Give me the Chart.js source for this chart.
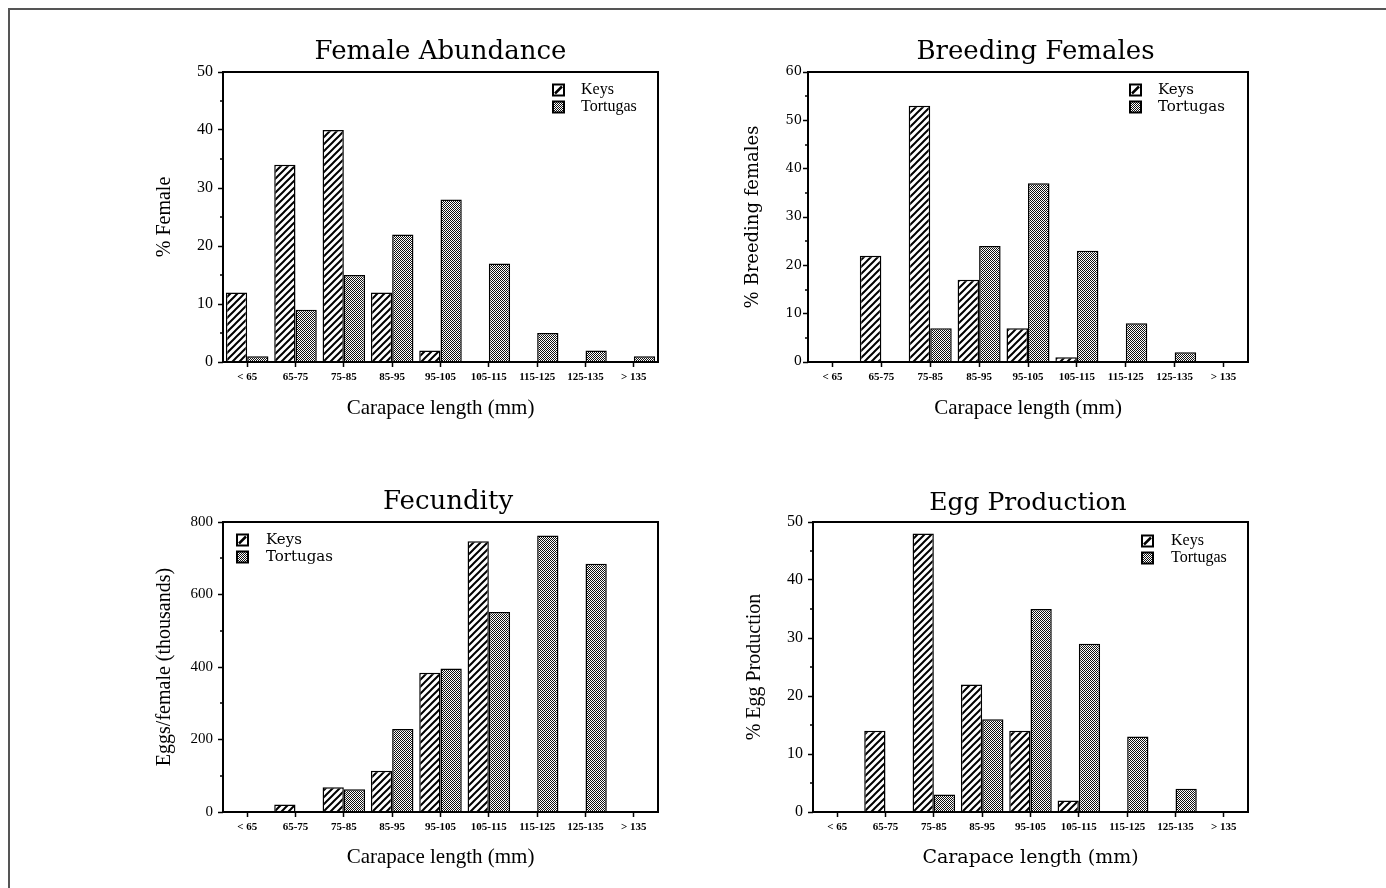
<!DOCTYPE html>
<html><head><meta charset="utf-8">
<script src="https://cdn.jsdelivr.net/npm/chart.js@4.4.1/dist/chart.umd.min.js"></script>
<style>
html,body{margin:0;padding:0;background:#fff;}
body{width:1386px;height:888px;position:relative;overflow:hidden;}
#frame{position:absolute;left:8px;top:8px;width:1400px;height:900px;border-top:2px solid #555;border-left:2px solid #555;}
canvas{position:absolute;}
</style></head><body>
<div id="frame"></div>
<canvas id="c1" width="540" height="400" style="left:130px;top:30px"></canvas>
<canvas id="c2" width="540" height="400" style="left:720px;top:30px"></canvas>
<canvas id="c3" width="540" height="400" style="left:130px;top:480px"></canvas>
<canvas id="c4" width="540" height="400" style="left:720px;top:480px"></canvas>
<script>
// ---- data ----
const categories = ['< 65','65-75','75-85','85-95','95-105','105-115','115-125','125-135','> 135'];
const seriesNames = ['Keys','Tortugas'];
const abundanceKeys     = [12, 34, 40, 12, 2, 0, 0, 0, 0];
const abundanceTortugas = [1, 9, 15, 22, 28, 17, 5, 2, 1];
const breedingKeys      = [0, 22, 53, 17, 7, 1, 0, 0, 0];
const breedingTortugas  = [0, 0, 7, 24, 37, 23, 8, 2, 0];
const fecundityKeys     = [0, 21, 68, 114, 384, 747, 0, 0, 0];
const fecundityTortugas = [0, 0, 63, 229, 396, 552, 763, 685, 0];
const eggKeys           = [0, 14, 48, 22, 14, 2, 0, 0, 0];
const eggTortugas       = [0, 0, 3, 16, 35, 29, 13, 4, 0];
const titles = ['Female Abundance','Breeding Females','Fecundity','Egg Production'];
const yTitles = ['% Female','% Breeding females','Eggs/female (thousands)','% Egg Production'];
const xTitle = 'Carapace length (mm)';
const yMaxes = [50, 60, 800, 50];
const yMajorSteps = [10, 10, 200, 10];
const yMinorSteps = [5, 5, 100, 5];

// ---- patterns ----
function makeHatch(){
  const s = 7, c = document.createElement('canvas'); c.width = s; c.height = s;
  const g = c.getContext('2d');
  g.fillStyle = '#fff'; g.fillRect(0,0,s,s);
  g.strokeStyle = '#000'; g.lineWidth = 2;
  g.beginPath();
  g.moveTo(0,s); g.lineTo(s,0);
  g.moveTo(-2,2); g.lineTo(2,-2);
  g.moveTo(s-2,s+2); g.lineTo(s+2,s-2);
  g.stroke();
  return g.createPattern(c,'repeat');
}
function makeStipple(){
  const s = 4, c = document.createElement('canvas'); c.width = s; c.height = s;
  const g = c.getContext('2d');
  g.fillStyle = '#fff'; g.fillRect(0,0,s,s);
  g.fillStyle = '#111';
  for (let y=0;y<s;y++) for (let x=0;x<s;x++) if ((x+y)%2===0) g.fillRect(x,y,1,1);
  return g.createPattern(c,'repeat');
}
const hatch = makeHatch();
const stipple = makeStipple();

// ---- plugin: box, minor ticks, title, legend ----
const panelPlugin = {
  id: 'panel',
  afterDraw(chart, args, o) {
    const ctx = chart.ctx, a = chart.chartArea, y = chart.scales.y;
    ctx.save();
    ctx.strokeStyle = '#000'; ctx.lineWidth = 2;
    ctx.strokeRect(a.left, a.top, a.right - a.left, a.bottom - a.top);
    ctx.lineWidth = 1.5;
    for (let v = y.min + o.minorStep; v < y.max; v += o.minorStep) {
      if (Math.abs(v / o.majorStep - Math.round(v / o.majorStep)) < 1e-6) continue;
      const py = Math.round(y.getPixelForValue(v));
      ctx.beginPath(); ctx.moveTo(a.left - 3, py); ctx.lineTo(a.left, py); ctx.stroke();
    }
    ctx.fillStyle = '#000';
    ctx.font = o.titleFont; ctx.textAlign = 'center'; ctx.textBaseline = 'middle';
    ctx.fillText(o.title, o.titleX, o.titleY);
    // legend
    const s = 11;
    ctx.font = o.legendFont; ctx.textAlign = 'left';
    o.names.forEach((name, i) => {
      const cy = o.legY + i * o.legGap;
      const x0 = o.legX, y0 = cy - s/2;
      ctx.fillStyle = i === 0 ? '#fff' : stipple;
      ctx.fillRect(x0, y0, s, s);
      if (i === 0) {
        ctx.lineWidth = 2.5;
        ctx.beginPath(); ctx.moveTo(x0 + 2, y0 + s - 2); ctx.lineTo(x0 + s - 2, y0 + 2); ctx.stroke();
      }
      ctx.lineWidth = 2;
      ctx.strokeRect(x0, y0, s, s);
      ctx.fillStyle = '#000';
      ctx.fillText(name, o.legTextX, cy);
    });
    ctx.restore();
  }
};

function makeChart(id, p) {
  const padLeft = p.yTitleX - p.yTitleSize / 2 - p.cx;
  const yWidth = p.area.l - p.cx - padLeft;
  const padRight = p.cx + 540 - p.area.r;
  const padTop = p.area.t - p.cy;
  const xBottom = p.xTitleY + p.xTitleSize / 2;
  const xHeight = xBottom - p.area.b;
  const padBottom = p.cy + 400 - xBottom;
  new Chart(document.getElementById(id), {
    type: 'bar',
    data: {
      labels: categories,
      datasets: [
        {label: seriesNames[0], data: p.keys, backgroundColor: hatch, borderColor: '#000', borderWidth: 1.5, categoryPercentage: 0.88, barPercentage: 1},
        {label: seriesNames[1], data: p.tort, backgroundColor: stipple, borderColor: '#000', borderWidth: 1.5, categoryPercentage: 0.88, barPercentage: 1}
      ]
    },
    options: {
      responsive: false, animation: false, devicePixelRatio: 1,
      layout: {padding: {left: padLeft, right: padRight, top: padTop, bottom: padBottom}},
      plugins: {
        legend: {display: false}, tooltip: {enabled: false}, title: {display: false},
        panel: {
          title: p.title, titleFont: p.titleFont, titleX: p.titleX - p.cx, titleY: p.titleY - p.cy,
          minorStep: p.minor, majorStep: p.major,
          names: seriesNames, legendFont: p.legendFont,
          legX: p.legX - p.cx, legY: p.legY - p.cy, legGap: 17, legTextX: p.legTextX - p.cx
        }
      },
      scales: {
        x: {
          offset: true,
          grid: {display: true, drawOnChartArea: false, drawTicks: true, tickLength: 5, tickWidth: 1.5, tickColor: '#000', offset: false},
          border: {display: false},
          ticks: {color: '#000', font: {family: 'Liberation Serif', size: 11, weight: 'bold'}, padding: 4, autoSkip: false, maxRotation: 0, minRotation: 0},
          title: {display: true, text: xTitle, color: '#000', font: {family: p.xTitleFamily, size: p.xTitleSize, lineHeight: 1}, padding: 0},
          afterFit(s) { s.height = xHeight; }
        },
        y: {
          min: 0, max: p.yMax,
          grid: {display: true, drawOnChartArea: false, drawTicks: true, tickLength: 5, tickWidth: 1.5, tickColor: '#000'},
          border: {display: false},
          ticks: {stepSize: p.major, color: '#000', font: {family: p.yTickFamily, size: p.yTickSize}, padding: p.yTickPad},
          title: {display: true, text: p.yTitle, color: '#000', font: {family: p.yTitleFamily, size: p.yTitleSize, lineHeight: 1}, padding: 0},
          afterFit(s) { s.width = yWidth; }
        }
      }
    },
    plugins: [panelPlugin]
  });
}

makeChart('c1', {
  cx: 130, cy: 30, area: {l: 223, r: 658, t: 72, b: 362},
  keys: abundanceKeys, tort: abundanceTortugas, yMax: yMaxes[0], major: yMajorSteps[0], minor: yMinorSteps[0],
  title: titles[0], titleFont: '26px "DejaVu Serif"', titleX: 440.5, titleY: 52,
  yTitle: yTitles[0], yTitleFamily: 'Liberation Serif', yTitleSize: 20, yTitleX: 165,
  xTitleFamily: 'Liberation Serif', xTitleSize: 21, xTitleY: 408,
  yTickFamily: 'Liberation Serif', yTickSize: 16, yTickPad: 5,
  legendFont: '16px "Liberation Serif"', legX: 553, legY: 90, legTextX: 581
});
makeChart('c2', {
  cx: 720, cy: 30, area: {l: 808, r: 1248, t: 72, b: 362},
  keys: breedingKeys, tort: breedingTortugas, yMax: yMaxes[1], major: yMajorSteps[1], minor: yMinorSteps[1],
  title: titles[1], titleFont: '26px "DejaVu Serif"', titleX: 1035.5, titleY: 52,
  yTitle: yTitles[1], yTitleFamily: 'DejaVu Serif', yTitleSize: 18, yTitleX: 753,
  xTitleFamily: 'Liberation Serif', xTitleSize: 21, xTitleY: 408,
  yTickFamily: 'DejaVu Serif', yTickSize: 13, yTickPad: 1,
  legendFont: '15px "DejaVu Serif"', legX: 1130, legY: 90, legTextX: 1158
});
makeChart('c3', {
  cx: 130, cy: 480, area: {l: 223, r: 658, t: 522, b: 812},
  keys: fecundityKeys, tort: fecundityTortugas, yMax: yMaxes[2], major: yMajorSteps[2], minor: yMinorSteps[2],
  title: titles[2], titleFont: '26px "DejaVu Serif"', titleX: 448, titleY: 502,
  yTitle: yTitles[2], yTitleFamily: 'Liberation Serif', yTitleSize: 20, yTitleX: 165,
  xTitleFamily: 'Liberation Serif', xTitleSize: 21, xTitleY: 857,
  yTickFamily: 'Liberation Serif', yTickSize: 15, yTickPad: 5,
  legendFont: '15px "DejaVu Serif"', legX: 237, legY: 540, legTextX: 266
});
makeChart('c4', {
  cx: 720, cy: 480, area: {l: 813, r: 1248, t: 522, b: 812},
  keys: eggKeys, tort: eggTortugas, yMax: yMaxes[3], major: yMajorSteps[3], minor: yMinorSteps[3],
  title: titles[3], titleFont: '25px "DejaVu Serif"', titleX: 1028, titleY: 503,
  yTitle: yTitles[3], yTitleFamily: 'Liberation Serif', yTitleSize: 20, yTitleX: 755,
  xTitleFamily: 'DejaVu Serif', xTitleSize: 19, xTitleY: 858,
  yTickFamily: 'Liberation Serif', yTickSize: 16, yTickPad: 5,
  legendFont: '16px "Liberation Serif"', legX: 1142, legY: 541, legTextX: 1171
});
</script>
</body></html>
